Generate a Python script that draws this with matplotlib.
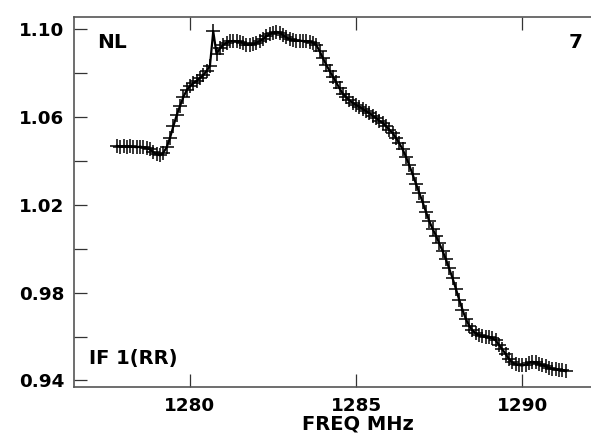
#!/usr/bin/env python3
"""
Bandpass amplitude plot (POSSM style) for IF 1 (RR), antenna NL.
"""

import matplotlib
matplotlib.use('Agg')
import matplotlib.pyplot as plt
from matplotlib.ticker import FixedLocator, MultipleLocator

# Channel frequencies (MHz) and amplitudes
freq_mhz = [
    1277.8, 1277.9, 1278.0, 1278.1, 1278.2, 1278.3, 1278.4, 1278.5, 1278.6, 1278.7,
    1278.8, 1278.9, 1279.0, 1279.1, 1279.2, 1279.3, 1279.4, 1279.5, 1279.6, 1279.7,
    1279.8, 1279.9, 1280.0, 1280.1, 1280.2, 1280.3, 1280.4, 1280.5, 1280.6, 1280.7,
    1280.8, 1280.9, 1281.0, 1281.1, 1281.2, 1281.3, 1281.4, 1281.5, 1281.6, 1281.7,
    1281.8, 1281.9, 1282.0, 1282.1, 1282.2, 1282.3, 1282.4, 1282.5, 1282.6, 1282.7,
    1282.8, 1282.9, 1283.0, 1283.1, 1283.2, 1283.3, 1283.4, 1283.5, 1283.6, 1283.7,
    1283.8, 1283.9, 1284.0, 1284.1, 1284.2, 1284.3, 1284.4, 1284.5, 1284.6, 1284.7,
    1284.8, 1284.9, 1285.0, 1285.1, 1285.2, 1285.3, 1285.4, 1285.5, 1285.6, 1285.7,
    1285.8, 1285.9, 1286.0, 1286.1, 1286.2, 1286.3, 1286.4, 1286.5, 1286.6, 1286.7,
    1286.8, 1286.9, 1287.0, 1287.1, 1287.2, 1287.3, 1287.4, 1287.5, 1287.6, 1287.7,
    1287.8, 1287.9, 1288.0, 1288.1, 1288.2, 1288.3, 1288.4, 1288.5, 1288.6, 1288.7,
    1288.8, 1288.9, 1289.0, 1289.1, 1289.2, 1289.3, 1289.4, 1289.5, 1289.6, 1289.7,
    1289.8, 1289.9, 1290.0, 1290.1, 1290.2, 1290.3, 1290.4, 1290.5, 1290.6, 1290.7,
    1290.8, 1290.9, 1291.0, 1291.1, 1291.2, 1291.3,
]

amplitude = [
    1.0468, 1.0465, 1.0466, 1.0463, 1.0466, 1.0464, 1.0462, 1.0465, 1.0461, 1.0458,
    1.0452, 1.0440, 1.0430, 1.0425, 1.0438, 1.0462, 1.0505, 1.0558, 1.0608, 1.0650,
    1.0690, 1.0722, 1.0740, 1.0753, 1.0765, 1.0777, 1.0790, 1.0810, 1.0832, 1.0990,
    1.0887, 1.0912, 1.0928, 1.0938, 1.0944, 1.0946, 1.0945, 1.0942, 1.0936, 1.0930,
    1.0928, 1.0932, 1.0938, 1.0946, 1.0956, 1.0967, 1.0976, 1.0984, 1.0988, 1.0984,
    1.0972, 1.0962, 1.0955, 1.0951, 1.0948, 1.0947, 1.0946, 1.0945, 1.0943, 1.0938,
    1.0928, 1.0900, 1.0868, 1.0838, 1.0810, 1.0784, 1.0758, 1.0730, 1.0706, 1.0690,
    1.0676, 1.0665, 1.0655, 1.0646, 1.0636, 1.0626, 1.0617, 1.0606, 1.0595, 1.0583,
    1.0572, 1.0558, 1.0542, 1.0526, 1.0504, 1.0480, 1.0452, 1.0418, 1.0380, 1.0338,
    1.0296, 1.0255, 1.0212, 1.0168, 1.0126, 1.0090, 1.0060, 1.0025, 0.9990, 0.9952,
    0.9910, 0.9866, 0.9818, 0.9768, 0.9722, 0.9680, 0.9650, 0.9628, 0.9614, 0.9607,
    0.9603, 0.9598, 0.9596, 0.9592, 0.9582, 0.9562, 0.9541, 0.9520, 0.9498, 0.9482,
    0.9474, 0.9470, 0.9468, 0.9472, 0.9480, 0.9485, 0.9482, 0.9476, 0.9470, 0.9464,
    0.9458, 0.9454, 0.9450, 0.9447, 0.9446, 0.9442,
]

y_major_ticks = [0.94, 0.98, 1.02, 1.06, 1.10]
y_minor_ticks = [0.96, 1.00, 1.04, 1.08]
x_ticks = [1280, 1285, 1290]

antenna_label = 'NL'
plot_number = '7'
if_label = 'IF 1(RR)'
x_label = 'FREQ MHz'

plt.rcParams['font.family'] = 'DejaVu Sans'
plt.rcParams['font.weight'] = 'bold'

fig = plt.figure(figsize=(5.91, 4.42), dpi=100)
# axes run off the right edge, as in the cropped original
ax = fig.add_axes([0.1252, 0.1244, 0.961, 0.837])

ax.plot(freq_mhz, amplitude, '-', color='black', lw=1.6)
ax.plot(freq_mhz, amplitude, '+', color='black', ms=10.5, mew=1.1)

ax.set_xlim(1276.51, 1293.6)
ax.set_ylim(0.9370, 1.1055)

ax.xaxis.set_major_locator(FixedLocator(x_ticks))
ax.yaxis.set_major_locator(FixedLocator(y_major_ticks))
ax.yaxis.set_minor_locator(FixedLocator(y_minor_ticks))
ax.yaxis.set_major_formatter(plt.FormatStrFormatter('%.2f'))

ax.tick_params(axis='both', which='both', direction='in', length=9.5,
               width=0.9, color='#333333', labelsize=13.2)
ax.tick_params(axis='x', top=True, pad=7.5)
ax.tick_params(axis='y', which='both', right=False, pad=7)
for lab in ax.get_xticklabels() + ax.get_yticklabels():
    lab.set_fontweight('bold')

for side in ['left', 'bottom', 'top']:
    ax.spines[side].set_color('#555555')
    ax.spines[side].set_linewidth(1.2)
ax.spines['right'].set_visible(False)

ax.set_xlabel(x_label, fontsize=14, fontweight='bold', labelpad=-1)

ax.text(0.0405, 0.93, antenna_label, transform=ax.transAxes, fontsize=14.5,
        fontweight='bold', ha='left', va='center')
ax.text(0.896, 0.93, plot_number, transform=ax.transAxes, fontsize=14.5,
        fontweight='bold', ha='right', va='center')
ax.text(0.0264, 0.078, if_label, transform=ax.transAxes, fontsize=14,
        fontweight='bold', ha='left', va='center')

plt.savefig('out.png', dpi=100)
plt.close()
